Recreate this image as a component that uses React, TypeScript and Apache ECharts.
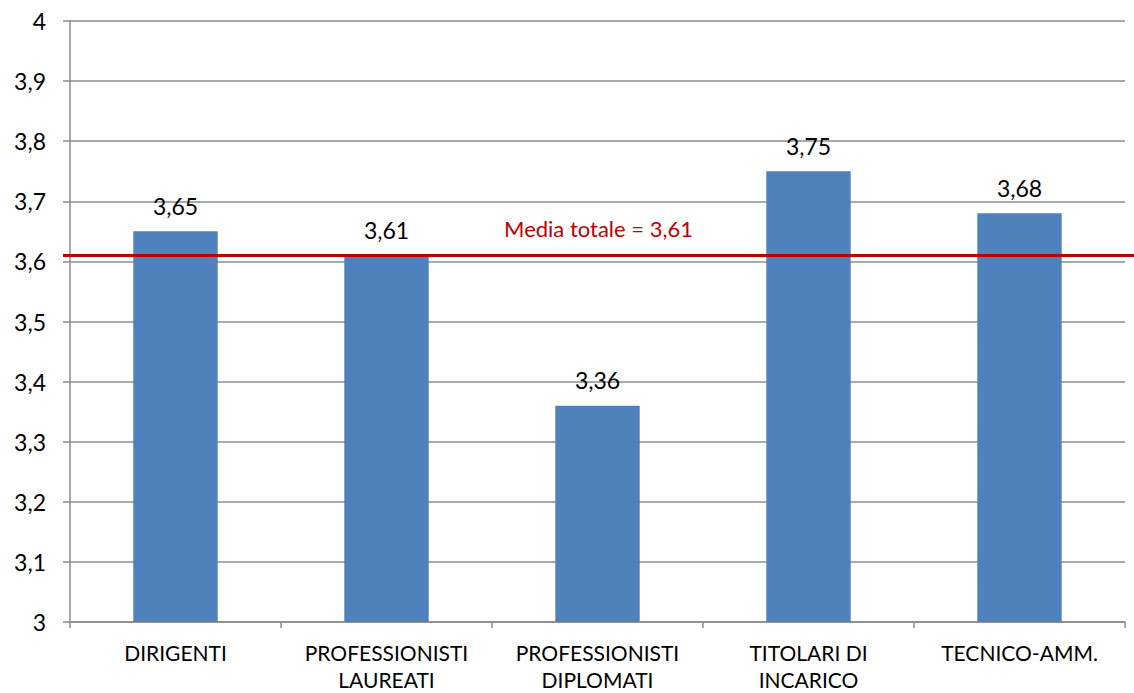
import React, { useEffect, useRef } from "react";
import * as echarts from "echarts";

const categories = [
  "DIRIGENTI",
  "PROFESSIONISTI\nLAUREATI",
  "PROFESSIONISTI\nDIPLOMATI",
  "TITOLARI DI\nINCARICO",
  "TECNICO-AMM.",
];
const scores = [3.65, 3.61, 3.36, 3.75, 3.68];
const overallMean = 3.61;
const meanLabel = "Media totale = 3,61";

const FONT = "Lato, 'Noto Sans', sans-serif";

const fmtComma = (v: number) => {
  const r = Math.round(v * 100) / 100;
  if (Number.isInteger(r)) return String(r);
  return String(r).replace(".", ",");
};

export default function App() {
  const ref = useRef<HTMLDivElement>(null);

  useEffect(() => {
    if (!ref.current) return;
    const chart = echarts.init(ref.current, null, { renderer: "svg" });
    chart.setOption({
      animation: false,
      backgroundColor: "#ffffff",
      grid: { left: 70, right: 9, top: 21, bottom: 70 },
      xAxis: {
        type: "category",
        data: categories,
        axisLine: { show: true, lineStyle: { color: "#8c8c8c", width: 1.5 } },
        axisTick: {
          show: true,
          alignWithLabel: false,
          length: 6,
          lineStyle: { color: "#8c8c8c", width: 1.5 },
        },
        axisLabel: {
          color: "#000000",
          fontFamily: FONT,
          fontSize: 21,
          lineHeight: 27,
          margin: 17,
          interval: 0,
        },
      },
      yAxis: {
        type: "value",
        min: 3,
        max: 4,
        interval: 0.1,
        axisLine: { show: true, lineStyle: { color: "#8c8c8c", width: 1.5 } },
        axisTick: {
          show: true,
          length: 7,
          lineStyle: { color: "#8c8c8c", width: 1.5 },
        },
        splitLine: { show: true, lineStyle: { color: "#8c8c8c", width: 1.5 } },
        axisLabel: {
          color: "#000000",
          fontFamily: FONT,
          fontSize: 23,
          margin: 24,
          formatter: (v: number) => fmtComma(v),
        },
      },
      series: [
        {
          type: "bar",
          data: scores,
          barCategoryGap: "60%",
          itemStyle: { color: "#4F81BD" },
          label: {
            show: true,
            position: "top",
            distance: 14,
            color: "#000000",
            fontFamily: FONT,
            fontSize: 23,
            formatter: (p: any) => fmtComma(p.value),
          },
          markLine: {
            silent: true,
            symbol: ["none", "none"],
            lineStyle: { color: "#C00000", width: 3, type: "solid" },
            label: {
              show: true,
              position: "middle",
              distance: 16,
              formatter: meanLabel,
              color: "#C00000",
              fontFamily: FONT,
              fontSize: 22,
            },
            emphasis: { disabled: true },
            data: [
              [
                { x: 63, yAxis: overallMean },
                { x: 1134, yAxis: overallMean },
              ],
            ],
          },
        },
      ],
    });
    return () => chart.dispose();
  }, []);

  return (
    <div
      ref={ref}
      style={{ position: "fixed", left: 0, top: 0, width: 1134, height: 693 }}
    />
  );
}
